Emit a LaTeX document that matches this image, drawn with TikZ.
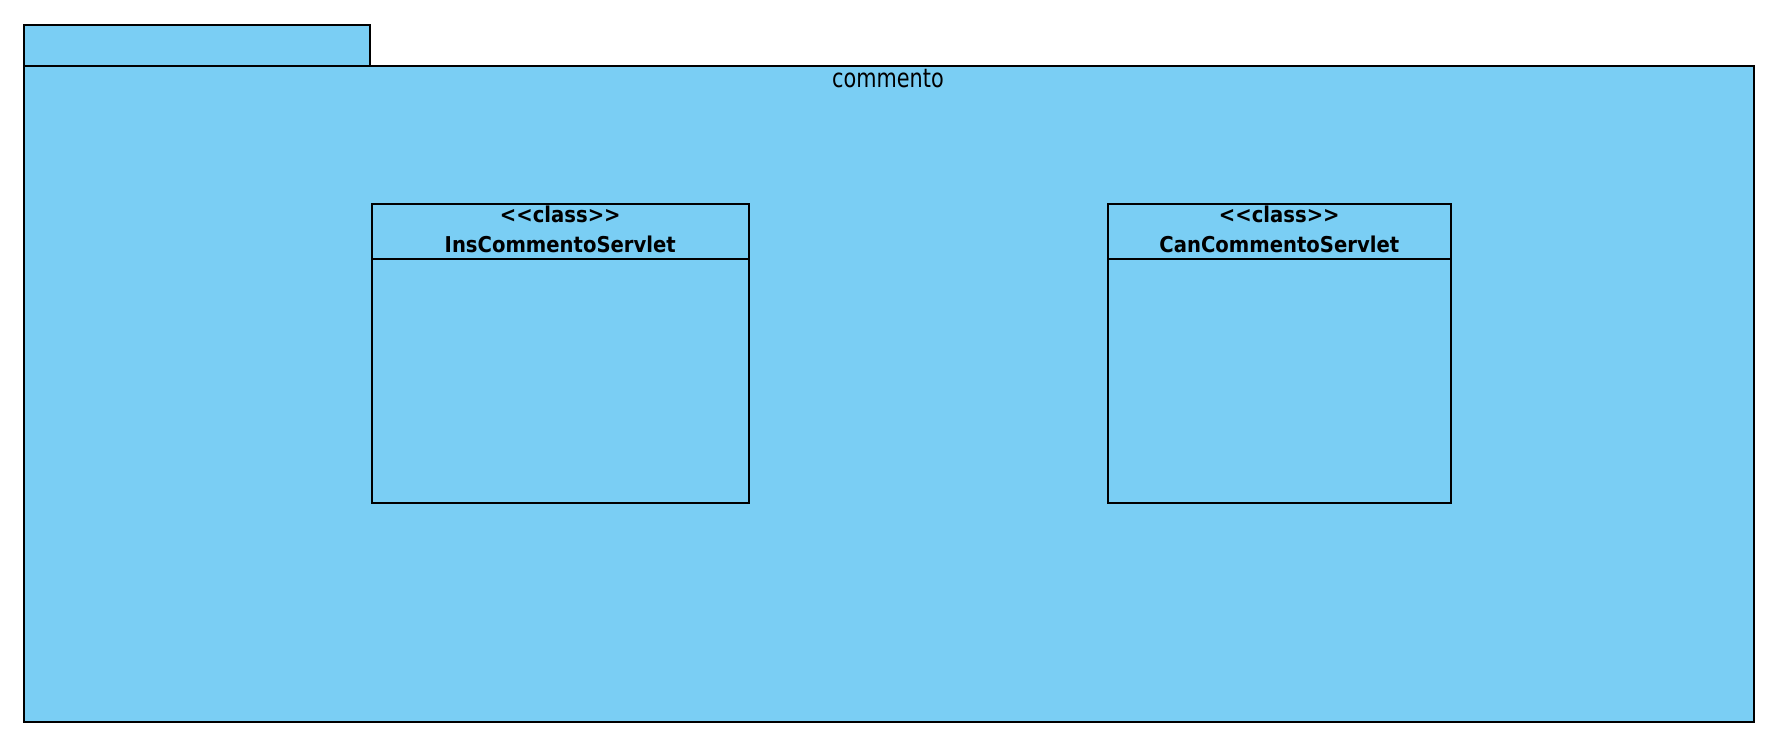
\documentclass[tikz,border=0pt]{standalone}
\usepackage{fontspec}
\newfontfamily\pkgfont[FakeStretch=0.8]{DejaVu Sans}
\newfontfamily\clsfont[FakeStretch=0.9]{DejaVu Sans}
\definecolor{pkgblue}{RGB}{122,206,244}
\tikzset{
  umlline/.style={draw=black, line width=1.6pt, fill=pkgblue},
  classbox/.style={umlline, rectangle, inner sep=0pt, minimum height=299pt, anchor=north west},
  pkgtitle/.style={anchor=base, inner sep=0pt, font={\pkgfont\fontsize{26}{30}\selectfont}},
  clstext/.style={anchor=base, inner sep=0pt, font={\clsfont\bfseries\fontsize{21.8}{26}\selectfont}},
}
\begin{document}
\begin{tikzpicture}[x=1pt, y=-1pt]
\useasboundingbox (0,0) rectangle (1786,754);

%% Package
\draw[umlline] (24,25) rectangle (370,66);
\draw[umlline] (24,66) rectangle (1754,722);
\node[pkgtitle] (pkgname) at (888,88) {commento};

%% Classes
\node[classbox, minimum width=377pt] (ins) at (371,203) {};
\draw[umlline] ([yshift=-56pt]ins.north west) -- ([yshift=-56pt]ins.north east);
\node[clstext] (insstereo) at ([yshift=-20pt]ins.north) {<\kern0pt<class>\kern0pt>};
\node[clstext] (insname) at ([yshift=-49pt]ins.north) {InsCommentoServlet};
%
\node[classbox, minimum width=343pt] (can) at (1107,203) {};
\draw[umlline] ([yshift=-56pt]can.north west) -- ([yshift=-56pt]can.north east);
\node[clstext] (canstereo) at ([yshift=-20pt]can.north) {<\kern0pt<class>\kern0pt>};
\node[clstext] (canname) at ([yshift=-49pt]can.north) {CanCommentoServlet};

\end{tikzpicture}
\end{document}
